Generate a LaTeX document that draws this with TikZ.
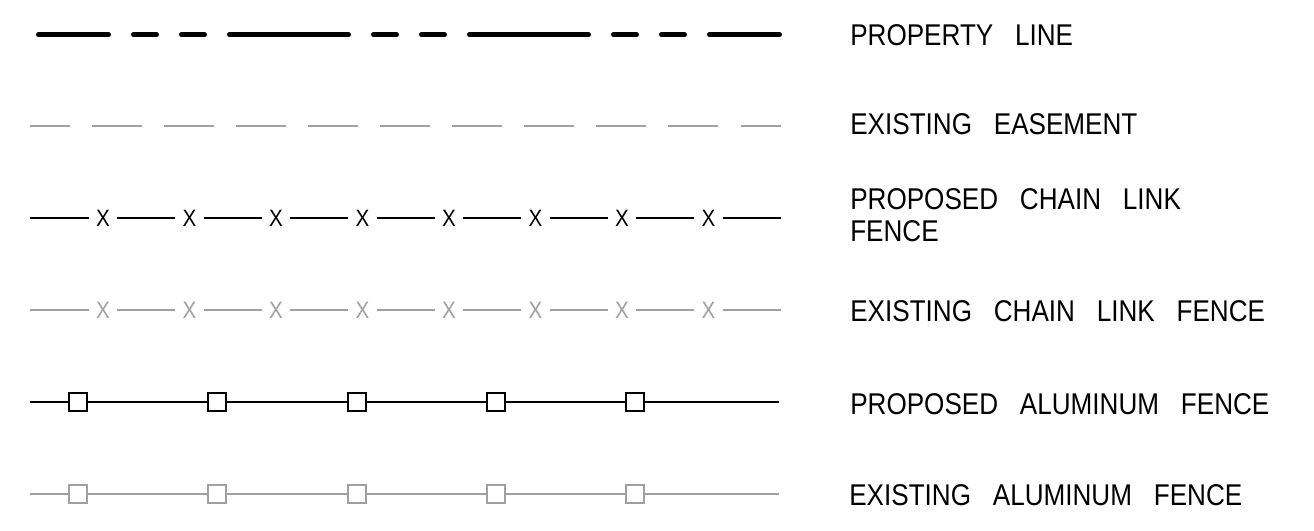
\documentclass[tikz,border=0pt]{standalone}
\usepackage{fontspec}
\newfontfamily\cadfont[FakeStretch=0.87,WordSpace=3.0]{Liberation Sans}
\definecolor{exgray}{RGB}{160,160,160}
\tikzset{
  legendlabel/.style={anchor=base west, inner sep=0pt, align=left,
    font=\cadfont\fontsize{22.5pt}{23.8pt}\selectfont},
  xmark/.style={inner sep=0pt, outer sep=5.6pt,
    font=\cadfont\fontsize{17.8pt}{18pt}\selectfont},
  chainline/.style={line width=1.5pt},
  alumline/.style={line width=1.2pt},
  post/.style={draw, line width=1.5pt, minimum size=13.5pt, inner sep=0pt, outer sep=0pt, fill=white},
  propline/.style={line width=3.75pt, line cap=round},
  easeline/.style={line width=1.5pt, exgray},
}
\begin{document}
\begin{tikzpicture}[x=0.75pt,y=-0.75pt]
\useasboundingbox[fill=white] (0,0) rectangle (1314,531);

% PROPERTY LINE
\foreach \a/\b in {38.5/108.5,133.5/156.5,181.5/204.5,229.5/348.5,373.5/396.5,421.5/444.5,469.5/588.5,613.5/636.5,661.5/684.5,709.5/779.5}
  \draw[propline] (\a,34.7) -- (\b,34.7);
\node[legendlabel] (lprop) at (850,45.7) {PROPERTY LINE};

% EXISTING EASEMENT
\draw[easeline] (30,126.3) -- (70,126.3);
\foreach \i in {0,...,8}
  \draw[easeline] ({92+72*\i},126.3) -- ({141.5+72*\i},126.3);
\draw[easeline] (740.5,126.3) -- (781,126.3);
\node[legendlabel] (lease) at (850,134.3) {EXISTING EASEMENT};

% PROPOSED CHAIN LINK FENCE
\coordinate (pcs) at (30,218.3);
\coordinate (pce) at (781,218.3);
\foreach \i in {1,...,8}
  \node[xmark] (pcx\i) at ({103+86.5*(\i-1)},218.3) {X};
\draw[chainline] (pcs) -- (pcx1);
\foreach \i [evaluate=\i as \j using int(\i+1)] in {1,...,7}
  \draw[chainline] (pcx\i) -- (pcx\j);
\draw[chainline] (pcx8) -- (pce);
\node[legendlabel] (lpcl) at (850,241.7) {PROPOSED CHAIN LINK\\FENCE};

% EXISTING CHAIN LINK FENCE
\begin{scope}[exgray]
\coordinate (ecs) at (30,310.3);
\coordinate (ece) at (781,310.3);
\foreach \i in {1,...,8}
  \node[xmark, text=exgray] (ecx\i) at ({103+86.5*(\i-1)},310.3) {X};
\draw[chainline] (ecs) -- (ecx1);
\foreach \i [evaluate=\i as \j using int(\i+1)] in {1,...,7}
  \draw[chainline] (ecx\i) -- (ecx\j);
\draw[chainline] (ecx8) -- (ece);
\end{scope}
\node[legendlabel] (lecl) at (850,321.7) {EXISTING CHAIN LINK FENCE};

% PROPOSED ALUMINUM FENCE
\coordinate (pas) at (30,402);
\coordinate (pae) at (779,402);
\foreach \i in {1,...,5}
  \node[post] (pap\i) at ({78+139.25*(\i-1)},402) {};
\draw[alumline] (pas) -- (pap1);
\foreach \i [evaluate=\i as \j using int(\i+1)] in {1,...,4}
  \draw[alumline] (pap\i) -- (pap\j);
\draw[alumline] (pap5) -- (pae);
\node[legendlabel] (lpal) at (850,414) {PROPOSED ALUMINUM FENCE};

% EXISTING ALUMINUM FENCE
\coordinate (eas) at (30,493.7);
\coordinate (eae) at (779,493.7);
\foreach \i in {1,...,5}
  \node[post, draw=exgray] (eap\i) at ({78+139.25*(\i-1)},493.7) {};
\draw[alumline, exgray] (eas) -- (eap1);
\foreach \i [evaluate=\i as \j using int(\i+1)] in {1,...,4}
  \draw[alumline, exgray] (eap\i) -- (eap\j);
\draw[alumline, exgray] (eap5) -- (eae);
\node[legendlabel] (leal) at (849,505.7) {EXISTING ALUMINUM FENCE};
\end{tikzpicture}
\end{document}
